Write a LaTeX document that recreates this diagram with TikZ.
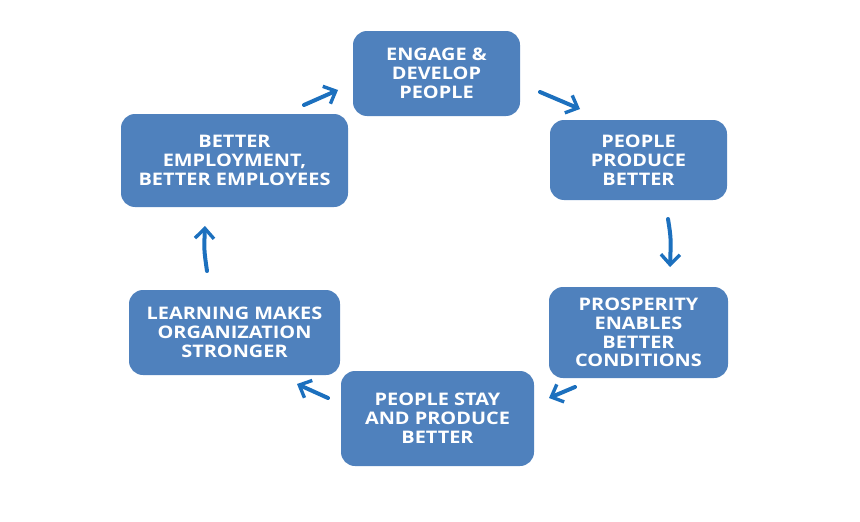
\documentclass[tikz,border=0pt]{standalone}
\usepackage{fontspec}
\setmainfont{Open Sans}[FakeStretch=1.15]
\usetikzlibrary{arrows.meta}
\definecolor{boxblue}{RGB}{79,129,189}
\definecolor{arrblue}{RGB}{28,112,190}
\tikzset{
  box/.style={fill=boxblue, rounded corners=14pt, text=white, align=center,
    font=\fontsize{17.3}{18.8}\selectfont\bfseries, inner sep=0pt},
  cyc/.style={draw=arrblue, line width=4pt, line cap=round,
    -{Straight Barb[length=10pt,width=19pt,line width=3.4pt]}}
}
\begin{document}
\begin{tikzpicture}[x=1pt,y=-1pt]
\useasboundingbox (0,0) rectangle (860,522);
\node[box, minimum width=167pt, minimum height=85pt] (engage) at (436.5,73.5) {ENGAGE \&\\DEVELOP\\PEOPLE};
\node[box, minimum width=177pt, minimum height=80pt] (produce) at (638.5,160) {PEOPLE\\PRODUCE\\BETTER};
\node[box, minimum width=179pt, minimum height=91pt] (prosper) at (638.5,332.5) {PROSPERITY\\ENABLES\\BETTER\\CONDITIONS};
\node[box, minimum width=193pt, minimum height=95pt] (stay) at (437.5,418.5) {PEOPLE STAY\\AND PRODUCE\\BETTER};
\node[box, minimum width=211pt, minimum height=85pt] (learn) at (234.5,332.5) {LEARNING MAKES\\ORGANIZATION\\STRONGER};
\node[box, minimum width=227pt, minimum height=93pt] (employ) at (234.5,160.5) {BETTER\\EMPLOYMENT,\\BETTER EMPLOYEES};
\coordinate (a1s) at (304,105); \coordinate (a1e) at (338,90);
\coordinate (a2s) at (540,92); \coordinate (a2e) at (580,109);
\coordinate (a3s) at (668,219); \coordinate (a3e) at (670,267);
\coordinate (a4s) at (575,387); \coordinate (a4e) at (549,398);
\coordinate (a5s) at (328,398); \coordinate (a5e) at (297,384);
\coordinate (a6s) at (207,271); \coordinate (a6e) at (205,226);
\draw[cyc] (a1s) -- (a1e);
\draw[cyc] (a2s) -- (a2e);
\draw[cyc] (a3s) .. controls (671,238) .. (a3e);
\draw[cyc] (a4s) -- (a4e);
\draw[cyc] (a5s) -- (a5e);
\draw[cyc] (a6s) .. controls (204,250) .. (a6e);
\end{tikzpicture}
\end{document}
